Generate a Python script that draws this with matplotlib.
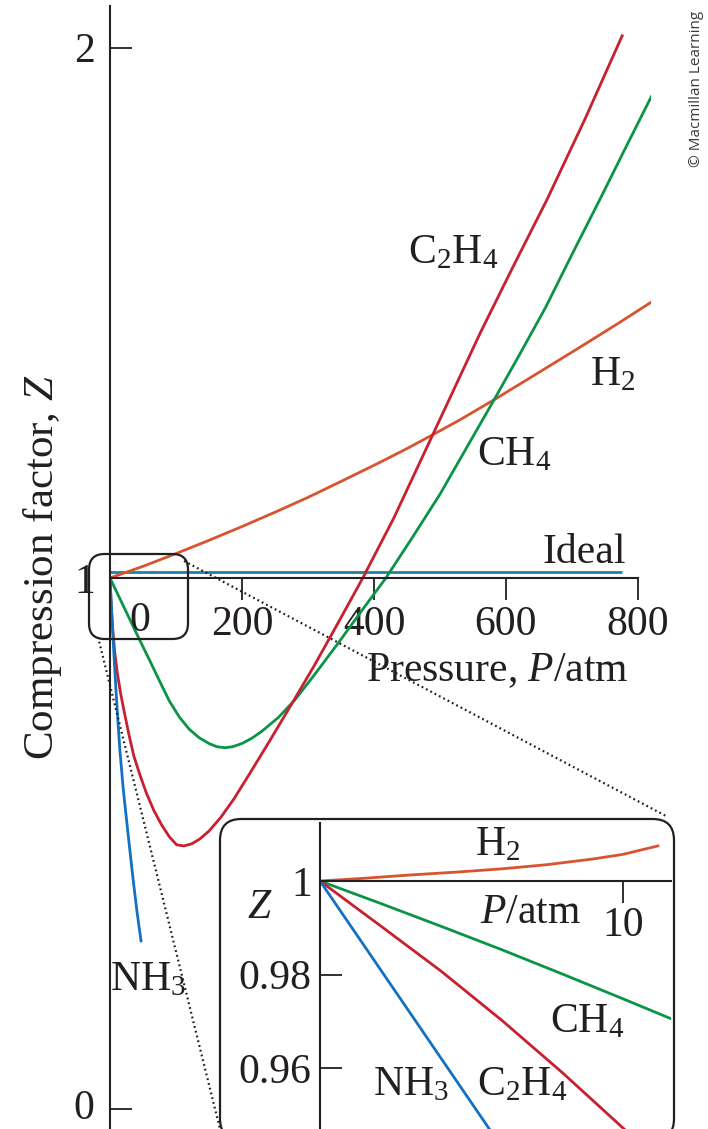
import matplotlib
matplotlib.use('Agg')
import matplotlib.pyplot as plt
from matplotlib.patches import FancyBboxPatch
from matplotlib.lines import Line2D
import matplotlib.transforms as mtransforms

# ---------------- data ----------------
p_h2 = [0, 50, 100, 150, 200, 250, 300, 350, 409, 450, 489, 530, 582, 640, 712, 770, 820]
z_h2 = [1.0, 1.022, 1.046, 1.071, 1.097, 1.124, 1.152, 1.182, 1.218, 1.244, 1.27, 1.298,
        1.336, 1.38, 1.435, 1.48, 1.52]

p_c2h4 = [0, 2, 4, 7, 11, 16, 22, 29, 36, 45, 55, 66, 78, 90, 101, 112, 124, 136, 150, 168,
          188, 212, 240, 276, 310, 345, 383, 430, 489, 561, 610, 662, 720, 776]
z_c2h4 = [1.0, 0.945, 0.905, 0.862, 0.822, 0.783, 0.745, 0.703, 0.665, 0.630, 0.595, 0.563,
          0.535, 0.512, 0.497, 0.495, 0.499, 0.508, 0.523, 0.549, 0.584, 0.632, 0.689, 0.764,
          0.836, 0.914, 1.0, 1.113, 1.27, 1.462, 1.585, 1.713, 1.866, 2.022]

p_ch4 = [0, 15, 30, 45, 60, 75, 90, 105, 120, 135, 150, 162, 174, 186, 200, 215, 230, 255,
         280, 310, 345, 380, 418, 460, 500, 540, 582, 620, 660, 700, 742, 780, 820]
z_ch4 = [1.0, 0.961, 0.922, 0.883, 0.845, 0.806, 0.768, 0.738, 0.715, 0.699, 0.688, 0.682,
         0.680, 0.682, 0.688, 0.698, 0.711, 0.737, 0.770, 0.818, 0.876, 0.936, 1.0, 1.08,
         1.158, 1.245, 1.336, 1.42, 1.51, 1.61, 1.713, 1.808, 1.907]

p_nh3 = [0, 3, 6, 9, 12, 15, 20, 25, 30, 35, 41, 47]
z_nh3 = [1.0, 0.925, 0.855, 0.79, 0.73, 0.675, 0.603, 0.545, 0.488, 0.432, 0.370, 0.316]

p_ideal = [0, 776]
z_ideal = [1.0, 1.0]

main_xticks = [200, 400, 600, 800]
main_yticks = [0, 1, 2]

# inset (low pressure)
p_h2_in = [0, 1.5, 3, 4.5, 6, 7.5, 9, 10, 11.15]
z_h2_in = [1.0, 1.0006, 1.0013, 1.0019, 1.0026, 1.0035, 1.0047, 1.0057, 1.0075]
p_ch4_in = [0, 2, 4, 6, 8, 10, 11.6]
z_ch4_in = [1.0, 0.9952, 0.9903, 0.9853, 0.9801, 0.9748, 0.9705]
p_c2h4_in = [0, 2, 4, 6, 8, 10.4]
z_c2h4_in = [1.0, 0.9904, 0.9807, 0.9702, 0.9590, 0.9448]
p_nh3_in = [0, 5.9]
z_nh3_in = [1.0, 0.944]

in_xticks = [10]
in_yticks = [0.96, 0.98, 1.0]
in_yticklabels = ['0.96', '0.98', '1']

# ---------------- style ----------------
W, H, DPI = 708, 1129, 100
INK = '#231f20'
C_H2 = '#d8542f'
C_C2H4 = '#c8202e'
C_CH4 = '#0a9447'
C_NH3 = '#1271c2'
C_IDEAL = '#1d7fa3'
FS = 30
LW = 2.0

plt.rcParams['font.family'] = ['Liberation Serif', 'DejaVu Serif']
plt.rcParams['mathtext.fontset'] = 'custom'
plt.rcParams['mathtext.rm'] = 'Liberation Serif'
plt.rcParams['mathtext.it'] = 'Liberation Serif:italic'
plt.rcParams['text.color'] = INK

fig = plt.figure(figsize=(W / DPI, H / DPI), dpi=DPI)


def fx(x):
    return x / W


def fy(y):
    return 1 - y / H


# ---------------- main axes ----------------
x0_px, x1_px = 110, 651
y_top_px, y_bot_px = 6, 1129
xmax = (x1_px - x0_px) / 0.66
zs = 530.5
ytop = 1 + (578 - y_top_px) / zs
ybot = 1 - (y_bot_px - 578) / zs

ax = fig.add_axes([fx(x0_px), fy(y_bot_px), (x1_px - x0_px) / W, (y_bot_px - y_top_px) / H])
ax.set_xlim(0, xmax)
ax.set_ylim(ybot, ytop)
ax.patch.set_alpha(0)
for s in ['top', 'right']:
    ax.spines[s].set_visible(False)
ax.spines['left'].set_linewidth(1.5)
ax.spines['left'].set_color(INK)
ax.spines['bottom'].set_position(('data', 1))
ax.spines['bottom'].set_bounds(0, 800)
ax.spines['bottom'].set_linewidth(1.5)
ax.spines['bottom'].set_color(INK)

ax.set_xticks(main_xticks)
ax.set_xticklabels([str(v) for v in main_xticks])
ax.set_yticks(main_yticks)
ax.set_yticklabels([str(v) for v in main_yticks])
ax.tick_params(axis='x', direction='out', length=16, width=1.3, pad=4, labelsize=FS,
               colors=INK)
ax.tick_params(axis='y', direction='in', length=16, width=1.3, pad=11, labelsize=FS,
               colors=INK)
lab0 = ax.get_yticklabels()[0]
lab0.set_transform(lab0.get_transform()
                   + mtransforms.ScaledTranslation(0, 4 / DPI, fig.dpi_scale_trans))

off = mtransforms.ScaledTranslation(0, 6 / DPI, fig.dpi_scale_trans)
ax.plot(p_ideal, z_ideal, color=C_IDEAL, lw=LW, transform=ax.transData + off,
        solid_capstyle='butt')
ax.plot(p_h2, z_h2, color=C_H2, lw=LW)
ax.plot(p_ch4, z_ch4, color=C_CH4, lw=LW)
ax.plot(p_c2h4, z_c2h4, color=C_C2H4, lw=LW)
ax.plot(p_nh3, z_nh3, color=C_NH3, lw=LW)

# main texts
fig.text(fx(140), fy(631), '0', fontsize=FS, ha='center', va='baseline')
fig.text(fx(497), fy(681), 'Pressure, $P$/atm', fontsize=FS, ha='center', va='baseline')
fig.text(fx(43), fy(567), 'Compression factor, $Z$', fontsize=FS + 1, ha='center',
         va='center', rotation=90)
fig.text(fx(408), fy(263), 'C$_2$H$_4$', fontsize=FS, ha='left', va='baseline')
fig.text(fx(590), fy(385), 'H$_2$', fontsize=FS, ha='left', va='baseline')
fig.text(fx(477), fy(465), 'CH$_4$', fontsize=FS, ha='left', va='baseline')
fig.text(fx(542), fy(563), 'Ideal', fontsize=FS, ha='left', va='baseline')
fig.text(fx(110), fy(990), 'NH$_3$', fontsize=FS, ha='left', va='baseline')

# small box around origin
small = FancyBboxPatch((fx(89), fy(639)), fx(188) - fx(89), fy(554) - fy(639),
                       boxstyle='round,pad=0,rounding_size=0.022',
                       transform=fig.transFigure, fill=False, ec=INK, lw=1.6,
                       mutation_aspect=W / H)
fig.add_artist(small)

# inset box
big = FancyBboxPatch((fx(220), fy(1140)), fx(674) - fx(220), fy(819) - fy(1140),
                     boxstyle='round,pad=0,rounding_size=0.03',
                     transform=fig.transFigure, fc='white', ec=INK, lw=1.6,
                     mutation_aspect=W / H, zorder=2)
fig.add_artist(big)

# dotted connectors
fig.add_artist(Line2D([fx(184), fx(666)], [fy(561), fy(816)], transform=fig.transFigure,
                      color=INK, lw=1.6, linestyle=(0, (0.8, 1.4)), zorder=1))
fig.add_artist(Line2D([fx(98), fx(220)], [fy(637), fy(1129)], transform=fig.transFigure,
                      color=INK, lw=1.6, linestyle=(0, (0.8, 1.4)), zorder=1))

# ---------------- inset axes ----------------
ix0, ix1 = 320, 671
iy_top, iy_bot = 823, 1129
ps = 30.3
zper = 0.02 / 93.5
axi = fig.add_axes([fx(ix0), fy(iy_bot), (ix1 - ix0) / W, (iy_bot - iy_top) / H], zorder=3)
axi.set_xlim(0, (ix1 - ix0) / ps)
axi.set_ylim(1 - (iy_bot - 881) * zper, 1 + (881 - iy_top) * zper)
axi.patch.set_alpha(0)
for s in ['top', 'right']:
    axi.spines[s].set_visible(False)
axi.spines['left'].set_linewidth(1.5)
axi.spines['left'].set_color(INK)
axi.spines['bottom'].set_position(('data', 1))
axi.spines['bottom'].set_linewidth(1.5)
axi.spines['bottom'].set_color(INK)
axi.set_xticks(in_xticks)
axi.set_xticklabels([str(v) for v in in_xticks])
axi.set_yticks(in_yticks)
axi.set_yticklabels(in_yticklabels)
axi.tick_params(axis='x', direction='out', length=16, width=1.3, pad=2, labelsize=FS,
                colors=INK)
axi.tick_params(axis='y', direction='in', length=16, width=1.3, pad=6, labelsize=FS,
                colors=INK)

axi.plot(p_h2_in, z_h2_in, color=C_H2, lw=LW)
axi.plot(p_ch4_in, z_ch4_in, color=C_CH4, lw=LW)
axi.plot(p_c2h4_in, z_c2h4_in, color=C_C2H4, lw=LW)
axi.plot(p_nh3_in, z_nh3_in, color=C_NH3, lw=LW)

for txt, x, y in [('H$_2$', 475, 855), ('$Z$', 247, 918), ('$P$/atm', 480, 923),
                  ('CH$_4$', 550, 1032), ('NH$_3$', 373, 1095), ('C$_2$H$_4$', 477, 1095)]:
    fig.text(fx(x), fy(y), txt, fontsize=FS, ha='left', va='baseline', zorder=4)

# copyright
fig.text(fx(696), fy(89), '\u00a9 Macmillan Learning', rotation=90, ha='center', va='center',
         fontsize=11, family=['Open Sans', 'DejaVu Sans'], color='#3a3a3a')

fig.savefig('out.png', dpi=DPI)
